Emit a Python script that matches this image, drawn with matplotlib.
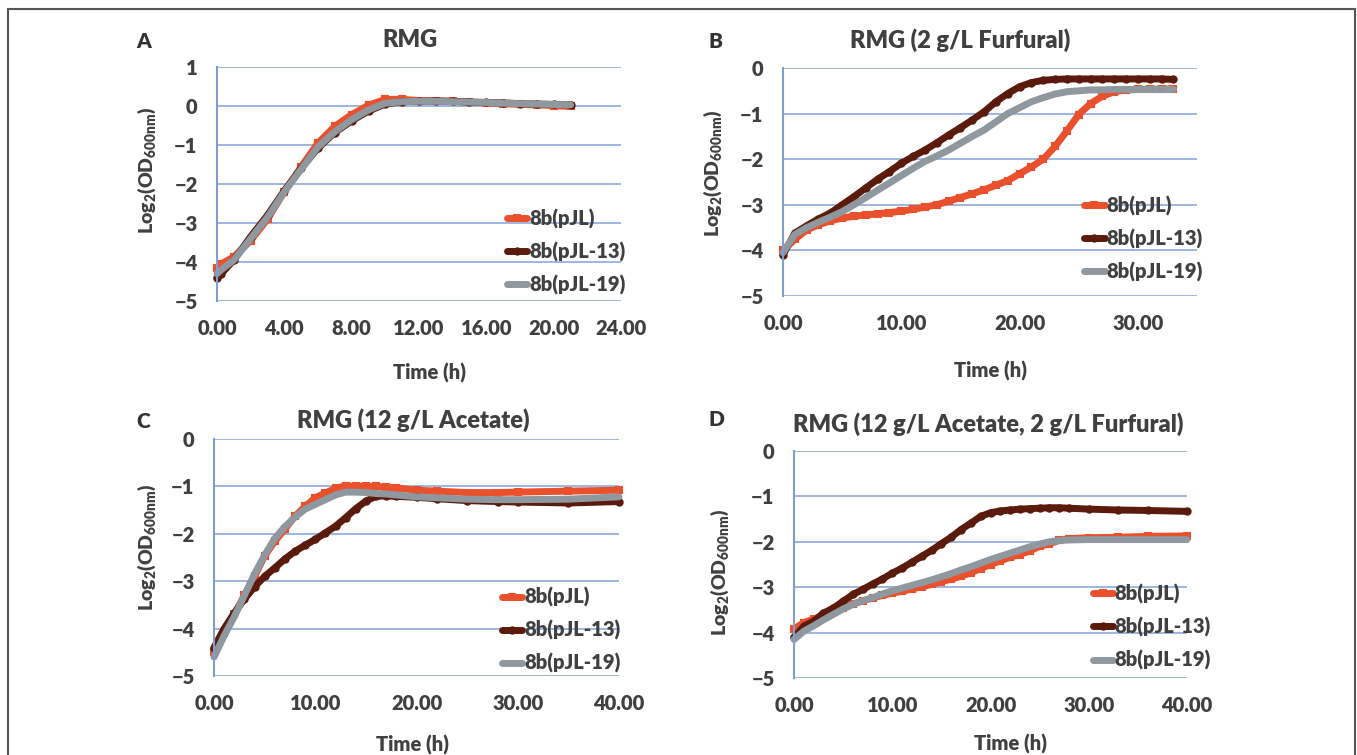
import matplotlib
matplotlib.use("Agg")
import matplotlib.pyplot as plt
from matplotlib.lines import Line2D
from matplotlib.ticker import FormatStrFormatter

FAM = 'Lato'
WT = 'heavy'
plt.rcParams['font.family'] = [FAM, 'DejaVu Sans']
plt.rcParams['font.weight'] = WT
plt.rcParams['axes.labelweight'] = WT
plt.rcParams['mathtext.fontset'] = 'custom'
plt.rcParams['mathtext.rm'] = FAM + ':' + WT
plt.rcParams['mathtext.it'] = FAM + ':' + WT
plt.rcParams['mathtext.bf'] = FAM + ':' + WT
plt.rcParams['mathtext.default'] = 'rm'

TXT = '#404040'
labels = ['8b(pJL)', '8b(pJL-13)', '8b(pJL-19)']

# Panel A: RMG
tA = [0, 0.25, 1, 2, 3, 4, 5, 6, 7, 8, 9, 10, 11, 12, 13, 14, 15, 16, 17, 18, 19, 20, 21]
a_pjl = [-4.15, -4.05, -3.87, -3.45, -2.9, -2.2, -1.56, -0.95, -0.52, -0.22, 0.02, 0.17, 0.17,
         0.14, 0.13, 0.12, 0.1, 0.08, 0.06, 0.04, 0.03, 0.01, -0.01]
a_p13 = [-4.4, -4.3, -3.95, -3.35, -2.8, -2.17, -1.6, -1.08, -0.68, -0.38, -0.13, 0.05, 0.11,
         0.12, 0.13, 0.12, 0.1, 0.09, 0.08, 0.06, 0.05, 0.04, 0.03]
a_p19 = [-4.3, -4.2, -3.95, -3.4, -2.85, -2.2, -1.62, -1.05, -0.66, -0.35, -0.1, 0.07, 0.11,
         0.12, 0.12, 0.11, 0.1, 0.09, 0.07, 0.06, 0.05, 0.04, 0.03]

# Panel B: RMG (2 g/L Furfural)
tB = list(range(0, 34))
b_pjl = [-4.0, -3.76, -3.55, -3.44, -3.35, -3.29, -3.25, -3.22, -3.2, -3.17, -3.14, -3.1, -3.05,
         -3.0, -2.92, -2.84, -2.76, -2.67, -2.57, -2.47, -2.32, -2.17, -2.0, -1.72, -1.38, -1.02,
         -0.78, -0.62, -0.52, -0.48, -0.47, -0.47, -0.46, -0.46]
b_p13 = [-4.1, -3.62, -3.46, -3.31, -3.18, -3.0, -2.82, -2.63, -2.44, -2.27, -2.09, -1.94, -1.8,
         -1.64, -1.47, -1.31, -1.14, -0.96, -0.74, -0.56, -0.41, -0.32, -0.27, -0.25, -0.24,
         -0.24, -0.24, -0.24, -0.24, -0.24, -0.24, -0.24, -0.24, -0.25]
b_p19 = [-4.05, -3.65, -3.5, -3.38, -3.27, -3.15, -3.0, -2.84, -2.68, -2.52, -2.36, -2.2, -2.05,
         -1.93, -1.8, -1.65, -1.5, -1.36, -1.18, -1.0, -0.87, -0.74, -0.65, -0.57, -0.52, -0.5,
         -0.48, -0.48, -0.47, -0.47, -0.47, -0.47, -0.47, -0.47]

# Panel C: RMG (12 g/L Acetate)
tC = [0, 1, 2, 3, 4, 5, 6, 7, 8, 9, 10, 11, 12, 13, 14, 15, 16, 17, 18, 20, 22, 25, 28, 30, 35, 40]
c_pjl = [-4.5, -4.1, -3.7, -3.3, -2.9, -2.47, -2.16, -1.9, -1.63, -1.42, -1.24, -1.14, -1.04,
         -0.99, -1.0, -1.0, -1.0, -1.02, -1.03, -1.08, -1.1, -1.13, -1.13, -1.12, -1.1, -1.08]
c_p13 = [-4.4, -4.0, -3.67, -3.38, -3.12, -2.9, -2.72, -2.53, -2.37, -2.24, -2.12, -1.98, -1.84,
         -1.66, -1.47, -1.31, -1.21, -1.2, -1.21, -1.23, -1.26, -1.3, -1.32, -1.33, -1.35, -1.32]
c_p19 = [-4.6, -4.15, -3.75, -3.3, -2.85, -2.45, -2.1, -1.85, -1.65, -1.48, -1.38, -1.28, -1.18,
         -1.12, -1.12, -1.13, -1.15, -1.16, -1.18, -1.22, -1.24, -1.27, -1.28, -1.28, -1.27, -1.22]

# Panel D: RMG (12 g/L Acetate, 2 g/L Furfural)
tD = [0, 1, 2, 3, 4, 5, 6, 7, 8, 9, 10, 11, 12, 13, 14, 15, 16, 17, 18, 19, 20, 21, 22, 23, 24,
      25, 26, 27, 28, 30, 33, 36, 40]
d_pjl = [-3.92, -3.78, -3.7, -3.63, -3.55, -3.45, -3.37, -3.3, -3.24, -3.18, -3.13, -3.09, -3.04,
         -2.99, -2.94, -2.88, -2.82, -2.76, -2.68, -2.59, -2.5, -2.42, -2.34, -2.28, -2.2, -2.1,
         -2.04, -1.97, -1.93, -1.91, -1.9, -1.88, -1.87]
d_p13 = [-4.1, -3.86, -3.75, -3.57, -3.46, -3.31, -3.16, -3.05, -2.93, -2.82, -2.69, -2.58, -2.45,
         -2.32, -2.19, -2.04, -1.9, -1.73, -1.59, -1.44, -1.36, -1.32, -1.3, -1.28, -1.27, -1.26,
         -1.25, -1.25, -1.26, -1.28, -1.3, -1.31, -1.33]
d_p19 = [-4.15, -3.97, -3.85, -3.72, -3.6, -3.48, -3.38, -3.3, -3.23, -3.15, -3.08, -3.02, -2.96,
         -2.9, -2.84, -2.77, -2.7, -2.62, -2.55, -2.47, -2.39, -2.32, -2.25, -2.18, -2.11, -2.05,
         -2.0, -1.97, -1.96, -1.95, -1.95, -1.95, -1.95]

colors = ['#E9502B', '#5A1A0C', '#8F979F']
markers = ['s', 'o', '+']

W, H = 1357, 755
fig = plt.figure(figsize=(W / 100, H / 100), dpi=100)


def px_axes(left, right, top, bottom):
    return fig.add_axes([left / W, 1 - bottom / H, (right - left) / W, (bottom - top) / H])


panels = [
    dict(box=(217, 621, 67, 301), t=tA, ys=[a_pjl, a_p13, a_p19], xlim=(0, 24), xt=range(0, 25, 4),
         ylim=(-5, 1), title='RMG', tpos=(0.478, 1.115), letter='A', lpos=(136, 42),
         ylab=(-0.173, 0.56), xlab=(0.527, -0.308), leg=(0.718, 0.395)),
    dict(box=(783, 1197, 68, 296), t=tB, ys=[b_pjl, b_p13, b_p19], xlim=(0, 35), xt=range(0, 31, 10),
         ylim=(-5, 0), title='RMG (2 g/L Furfural)', tpos=(0.428, 1.123), letter='B', lpos=(708, 42),
         ylab=(-0.169, 0.54), xlab=(0.502, -0.329), leg=(0.728, 0.44)),
    dict(box=(214, 619, 439, 676), t=tC, ys=[c_pjl, c_p13, c_p19], xlim=(0, 40), xt=range(0, 41, 10),
         ylim=(-5, 0), title='RMG (12 g/L Acetate)', tpos=(0.491, 1.08), letter='C', lpos=(136, 422),
         ylab=(-0.165, 0.544), xlab=(0.491, -0.291), leg=(0.712, 0.375)),
    dict(box=(794, 1187, 451, 678), t=tD, ys=[d_pjl, d_p13, d_p19], xlim=(0, 40), xt=range(0, 41, 10),
         ylim=(-5, 0), title='RMG (12 g/L Acetate, 2 g/L Furfural)', tpos=(0.494, 1.119), letter='D',
         lpos=(708, 420), ylab=(-0.188, 0.467), xlab=(0.55, -0.29), leg=(0.76, 0.415)),
]

for p in panels:
    ax = px_axes(*p['box'])
    for y, c, m, lab in zip(p['ys'], colors, markers, labels):
        ax.plot(p['t'], y, color=c, lw=5, marker=m, ms=4.5, mew=1.5, label=lab,
                solid_capstyle='round', clip_on=False)
    ax.set_xlim(*p['xlim'])
    ax.set_ylim(*p['ylim'])
    ax.set_xticks(list(p['xt']))
    ax.set_yticks(range(p['ylim'][0], p['ylim'][1] + 1))
    ax.xaxis.set_major_formatter(FormatStrFormatter('%.2f'))
    ax.tick_params(length=0, labelsize=14.5, labelcolor=TXT)
    ax.tick_params(axis='x', pad=13)
    ax.tick_params(axis='y', pad=14)
    ax.grid(axis='y', color='#8EAADB', lw=1.2)
    ax.set_axisbelow(True)
    for s in ['top', 'right', 'bottom']:
        ax.spines[s].set_visible(False)
    ax.spines['left'].set_color('#7F9FD0')
    ax.spines['left'].set_linewidth(1.5)
    ax.set_ylabel(r'Log$_2$(OD$_{600nm}$)', fontsize=14, color=TXT, va='center', fontweight=WT)
    ax.yaxis.set_label_coords(*p['ylab'])
    ax.set_xlabel('Time (h)', fontsize=14.5, color=TXT, va='center', fontweight=WT)
    ax.xaxis.set_label_coords(*p['xlab'])
    ax.text(p['tpos'][0], p['tpos'][1], p['title'], transform=ax.transAxes, ha='center',
            va='center', fontsize=17, color=TXT)
    fig.text(p['lpos'][0] / W, 1 - p['lpos'][1] / H, p['letter'], ha='left', va='center',
             fontsize=15, color='#333333')
    ax.legend(loc='upper left', bbox_to_anchor=p['leg'], frameon=False, fontsize=14.5,
              handlelength=1.0, handletextpad=0.1, labelspacing=0.65, borderpad=0,
              borderaxespad=0, labelcolor=TXT)

# outer frame (open at the bottom)
fr = dict(transform=fig.transFigure, color='#555555', lw=1.5)
fig.add_artist(Line2D([8 / W, 8 / W], [0, 1 - 9 / H], **fr))
fig.add_artist(Line2D([8 / W, 1355 / W], [1 - 9 / H, 1 - 9 / H], **fr))
fig.add_artist(Line2D([1355 / W, 1355 / W], [0, 1 - 9 / H], **fr))

fig.savefig('out.png', dpi=100)
